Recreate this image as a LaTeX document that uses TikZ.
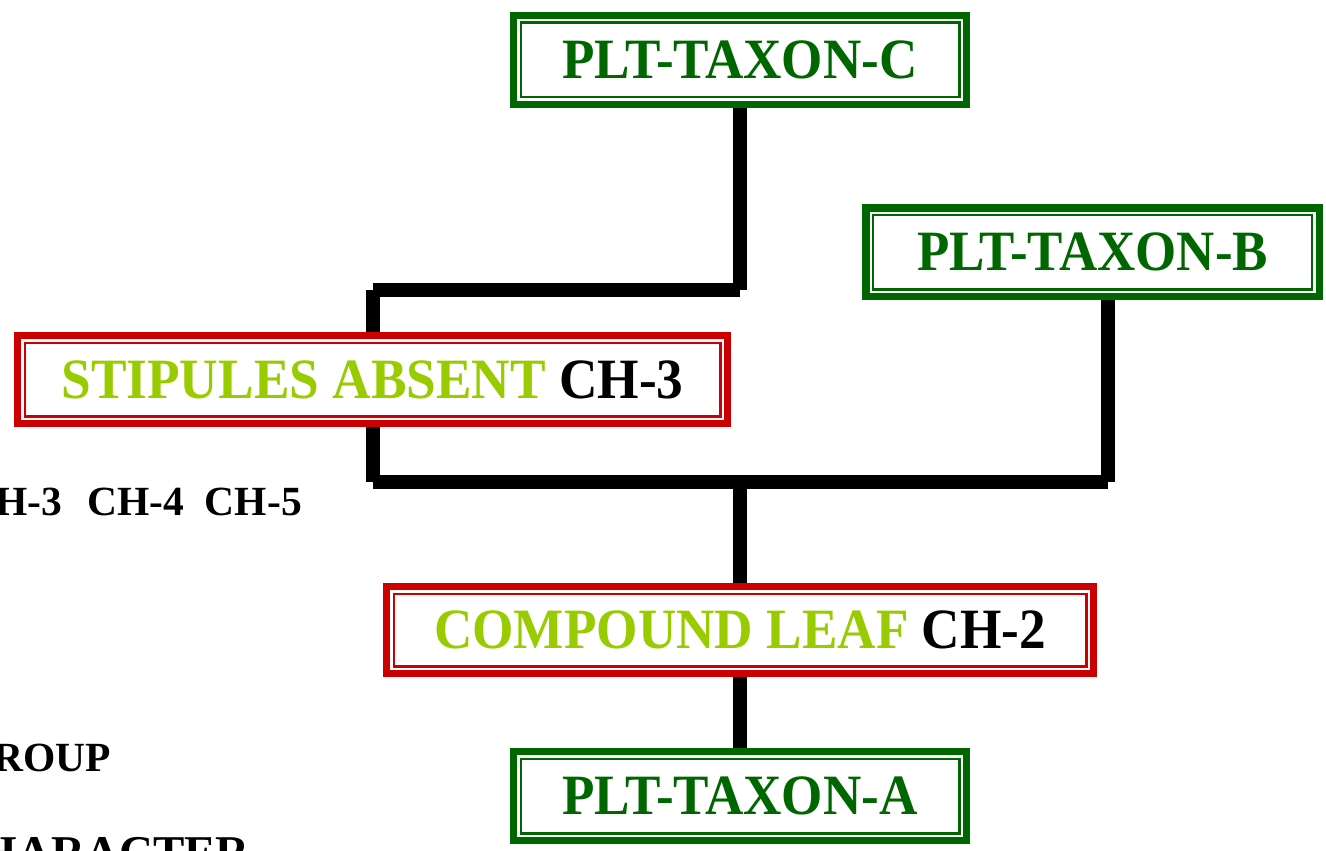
\documentclass[tikz,border=0pt]{standalone}
\usepackage{fontspec}
\setmainfont{Liberation Serif}
\usepackage{graphicx}
\definecolor{dgreen}{RGB}{0,102,0}
\definecolor{lgreen}{RGB}{153,204,0}
\definecolor{bred}{RGB}{204,0,0}
\newcommand\fitw[2]{\resizebox{#1}{\height}{#2}}
\newcommand\frames[2]{%
  \draw[line width=7.2pt,#2] ([xshift=3.6pt,yshift=-3.6pt]#1.north west) rectangle ([xshift=-3.6pt,yshift=3.6pt]#1.south east);
  \draw[line width=2.2pt,#2] ([xshift=10.8pt,yshift=-10.8pt]#1.north west) rectangle ([xshift=-10.8pt,yshift=10.8pt]#1.south east);}
\begin{document}
\begin{tikzpicture}[x=1pt,y=-1pt,
  conn/.style={line width=14pt, line cap=butt, black},
  tbox/.style={fill=white, inner sep=0pt, font=\bfseries\fontsize{57}{60}\selectfont},
  lt/.style={inner sep=0pt, font=\bfseries\fontsize{41.5}{44}\selectfont, anchor=base east}]
\useasboundingbox (0,0) rectangle (1326,851);
% junction coordinates
\coordinate (j1) at (740,290);
\coordinate (j2) at (372.5,290);
\coordinate (j3) at (372.5,482);
\coordinate (j4) at (740,482);
\coordinate (j5) at (1108,482);
% nodes
\path (740,60) node[tbox, minimum width=460pt, minimum height=96pt, text=dgreen] (C) {\fitw{355pt}{PLT-TAXON-C}};
\path (1092.5,252.3) node[tbox, minimum width=460pt, minimum height=95.5pt, text=dgreen] (B) {\fitw{351pt}{PLT-TAXON-B}};
\path (740,796) node[tbox, minimum width=460pt, minimum height=96pt, text=dgreen] (A) {\fitw{355pt}{PLT-TAXON-A}};
\path (372.5,379.5) node[tbox, minimum width=717pt, minimum height=95pt] (S) {\fitw{622pt}{{\color{lgreen}STIPULES ABSENT} CH-3}};
\path (740,630) node[tbox, minimum width=714pt, minimum height=94pt] (P) {\fitw{612pt}{{\color{lgreen}COMPOUND LEAF} CH-2}};
% connectors
\draw[conn] (C.south) -- (j1);
\draw[conn] (j1) -- (j2);
\draw[conn] (j2) -- (S.north);
\draw[conn] (S.south) -- (j3);
\draw[conn] (j3) -- (j4);
\draw[conn] (j4) -- (j5);
\draw[conn] (j5) -- (j5 |- B.south);
\draw[conn] (j4) -- (P.north);
\draw[conn] (P.south) -- (A.north);
% frames
\frames{C}{dgreen}
\frames{B}{dgreen}
\frames{A}{dgreen}
\frames{S}{bred}
\frames{P}{bred}
% left legend texts (partly off the page, as in the reference)
\node[lt] (l1) at (302,515) {CH-3\hspace{25pt}CH-4\ \ CH-5};
\node[lt] (l2) at (111,771) {GROUP};
\node[lt, font=\bfseries\fontsize{47}{50}\selectfont] (l3) at (250,868) {CHARACTER};
\end{tikzpicture}
\end{document}
